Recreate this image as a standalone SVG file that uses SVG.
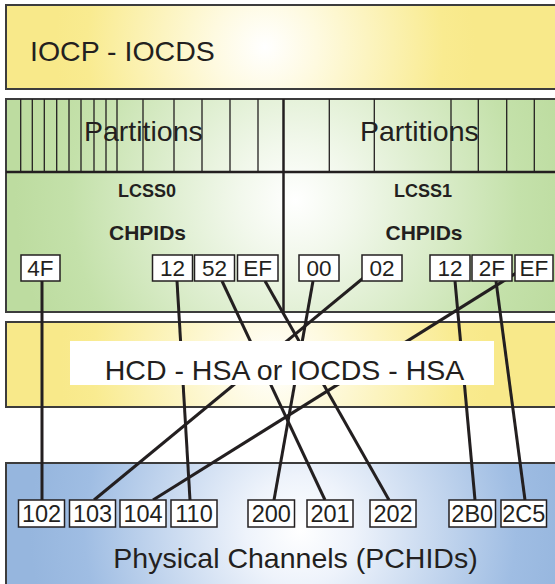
<svg xmlns="http://www.w3.org/2000/svg" width="555" height="584" viewBox="0 0 555 584">
  <defs>
    <radialGradient id="gY1" gradientUnits="userSpaceOnUse" cx="265" cy="47" r="210">
      <stop offset="0" stop-color="#ffffff"/>
      <stop offset="0.25" stop-color="#fefae0"/>
      <stop offset="0.85" stop-color="#f9eb90"/>
      <stop offset="1" stop-color="#f8e98a"/>
    </radialGradient>
    <radialGradient id="gY2" gradientUnits="userSpaceOnUse" cx="275" cy="365" r="215">
      <stop offset="0" stop-color="#ffffff"/>
      <stop offset="0.25" stop-color="#fefae0"/>
      <stop offset="0.85" stop-color="#f9eb90"/>
      <stop offset="1" stop-color="#f8e98a"/>
    </radialGradient>
    <radialGradient id="gG" gradientUnits="userSpaceOnUse" cx="295" cy="200" r="280">
      <stop offset="0" stop-color="#ffffff"/>
      <stop offset="0.2" stop-color="#f2f8ec"/>
      <stop offset="0.8" stop-color="#c4e1aa"/>
      <stop offset="1" stop-color="#bddca0"/>
    </radialGradient>
    <radialGradient id="gB" gradientUnits="userSpaceOnUse" cx="300" cy="530" r="270">
      <stop offset="0" stop-color="#ffffff"/>
      <stop offset="0.2" stop-color="#eef3fb"/>
      <stop offset="0.8" stop-color="#9fbde3"/>
      <stop offset="1" stop-color="#96b6de"/>
    </radialGradient>
  </defs>
  <style>
    .band{stroke:#3c3c3c;stroke-width:2}
    .t{font-family:"Liberation Sans",Arial,Helvetica,sans-serif;fill:#231f20}
    .big{font-size:28.5px}
    .bold{font-size:18px;font-weight:bold}
    .bold2{font-size:21px;font-weight:bold}
    .box{fill:#ffffff;stroke:#231f20;stroke-width:1.5}
    .ch{font-size:22.5px;text-anchor:middle}
    .pc{font-size:23.5px;text-anchor:middle}
    .part line{stroke:#231f20;stroke-width:1.3}
    #connectors line{stroke:#231f20;stroke-width:3}
  </style>

  <g id="iocp-iocds">
    <rect class="band" x="6" y="5" width="560" height="84" fill="url(#gY1)"/>
    <text class="t big" x="30" y="61">IOCP - IOCDS</text>
  </g>

  <g id="lcss-partitions">
    <rect class="band" x="6" y="99" width="560" height="213" fill="url(#gG)"/>
    <g class="part">
      <line x1="20.7" y1="99" x2="20.7" y2="172"/>
      <line x1="32.3" y1="99" x2="32.3" y2="172"/>
      <line x1="44.3" y1="99" x2="44.3" y2="172"/>
      <line x1="56.7" y1="99" x2="56.7" y2="172"/>
      <line x1="69" y1="99" x2="69" y2="172"/>
      <line x1="81" y1="99" x2="81" y2="172"/>
      <line x1="94" y1="99" x2="94" y2="172"/>
      <line x1="106" y1="99" x2="106" y2="172"/>
      <line x1="117" y1="99" x2="117" y2="172"/>
      <line x1="143" y1="99" x2="143" y2="172"/>
      <line x1="174" y1="99" x2="174" y2="172"/>
      <line x1="202" y1="99" x2="202" y2="172"/>
      <line x1="230" y1="99" x2="230" y2="172"/>
      <line x1="258" y1="99" x2="258" y2="172"/>
      <line x1="329.3" y1="99" x2="329.3" y2="172"/>
      <line x1="374.3" y1="99" x2="374.3" y2="172"/>
      <line x1="451" y1="99" x2="451" y2="172"/>
      <line x1="478.3" y1="99" x2="478.3" y2="172"/>
      <line x1="506.7" y1="99" x2="506.7" y2="172"/>
      <line x1="534.3" y1="99" x2="534.3" y2="172"/>
    </g>
    <line x1="6" y1="172" x2="560" y2="172" stroke="#231f20" stroke-width="2.5"/>
    <line x1="283.5" y1="99" x2="283.5" y2="312" stroke="#231f20" stroke-width="2.5"/>
    <text class="t big" x="84" y="141">Partitions</text>
    <text class="t big" x="360" y="141">Partitions</text>
    <text class="t bold" x="147" y="197" text-anchor="middle">LCSS0</text>
    <text class="t bold" x="423" y="197" text-anchor="middle">LCSS1</text>
    <text class="t bold2" x="147.5" y="240" text-anchor="middle">CHPIDs</text>
    <text class="t bold2" x="424" y="240" text-anchor="middle">CHPIDs</text>
  </g>

  <g id="hsa-band">
    <rect class="band" x="6" y="322" width="560" height="85" fill="url(#gY2)"/>
  </g>

  <g id="pchid-band">
    <rect class="band" x="6" y="463" width="560" height="130" fill="url(#gB)"/>
    <text class="t big" x="295.5" y="568" text-anchor="middle">Physical Channels (PCHIDs)</text>
  </g>

  <g id="connectors">
    <line x1="42" y1="270" x2="42" y2="510"/>
    <line x1="177" y1="281" x2="190" y2="500"/>
    <line x1="222" y1="281" x2="325" y2="500"/>
    <line x1="265" y1="281" x2="389" y2="500"/>
    <line x1="313" y1="281" x2="274" y2="500"/>
    <line x1="373" y1="270" x2="94" y2="500"/>
    <line x1="529" y1="265" x2="153" y2="500"/>
    <line x1="496" y1="281" x2="525" y2="500"/>
    <line x1="455" y1="281" x2="475" y2="500"/>
  </g>

  <g id="hsa-label">
    <rect x="70" y="341" width="424" height="44" fill="#ffffff"/>
    <text class="t big" x="284.5" y="380" text-anchor="middle">HCD - HSA or IOCDS - HSA</text>
  </g>

  <g id="chpid-lcss0-4F"><rect class="box" x="21" y="255" width="39" height="26"/><text class="t ch" x="40.5" y="276">4F</text></g>
  <g id="chpid-lcss0-12"><rect class="box" x="152.5" y="255" width="40" height="26"/><text class="t ch" x="172.5" y="276">12</text></g>
  <g id="chpid-lcss0-52"><rect class="box" x="194.5" y="255" width="40" height="26"/><text class="t ch" x="214.5" y="276">52</text></g>
  <g id="chpid-lcss0-EF"><rect class="box" x="237.5" y="255" width="40.5" height="26"/><text class="t ch" x="257.75" y="276">EF</text></g>
  <g id="chpid-lcss1-00"><rect class="box" x="299" y="255" width="40" height="26"/><text class="t ch" x="319" y="276">00</text></g>
  <g id="chpid-lcss1-02"><rect class="box" x="362" y="255" width="40" height="26"/><text class="t ch" x="382" y="276">02</text></g>
  <g id="chpid-lcss1-12"><rect class="box" x="430" y="255" width="40" height="26"/><text class="t ch" x="450" y="276">12</text></g>
  <g id="chpid-lcss1-2F"><rect class="box" x="472" y="255" width="40" height="26"/><text class="t ch" x="492" y="276">2F</text></g>
  <g id="chpid-lcss1-EF"><rect class="box" x="515" y="255" width="38" height="26"/><text class="t ch" x="534" y="276">EF</text></g>

  <g id="pchid-102"><rect class="box" x="18.5" y="500" width="46" height="27"/><text class="t pc" x="41.5" y="522">102</text></g>
  <g id="pchid-103"><rect class="box" x="69.5" y="500" width="46" height="27"/><text class="t pc" x="92.5" y="522">103</text></g>
  <g id="pchid-104"><rect class="box" x="120" y="500" width="46" height="27"/><text class="t pc" x="143" y="522">104</text></g>
  <g id="pchid-110"><rect class="box" x="171" y="500" width="46" height="27"/><text class="t pc" x="194" y="522">110</text></g>
  <g id="pchid-200"><rect class="box" x="248" y="500" width="46.5" height="27"/><text class="t pc" x="271.25" y="522">200</text></g>
  <g id="pchid-201"><rect class="box" x="307" y="500" width="46" height="27"/><text class="t pc" x="330" y="522">201</text></g>
  <g id="pchid-202"><rect class="box" x="370" y="500" width="46" height="27"/><text class="t pc" x="393" y="522">202</text></g>
  <g id="pchid-2B0"><rect class="box" x="449" y="500" width="46.5" height="27"/><text class="t pc" x="472.25" y="522">2B0</text></g>
  <g id="pchid-2C5"><rect class="box" x="501" y="500" width="45.5" height="27"/><text class="t pc" x="523.75" y="522">2C5</text></g>
</svg>
